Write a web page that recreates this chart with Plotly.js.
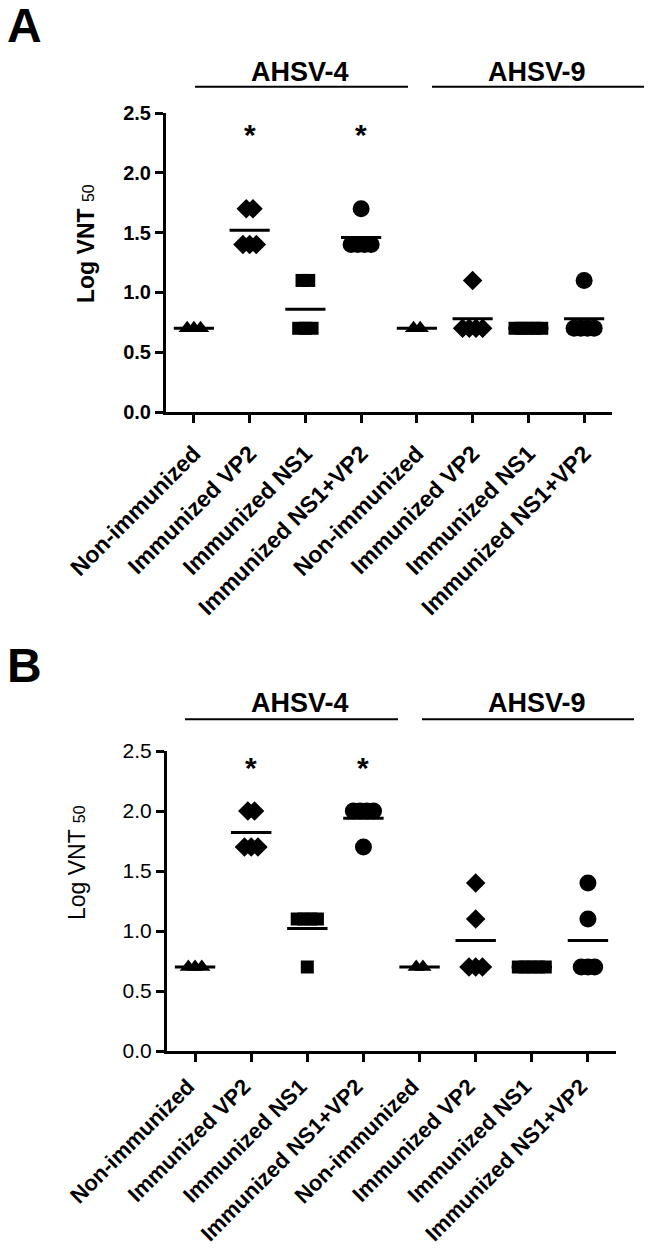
<!DOCTYPE html>
<html>
<head>
<meta charset="utf-8">
<script src="https://cdn.plot.ly/plotly-3.0.1.min.js"></script>
<style>
  body { margin: 0; background: #fff; }
  #plot { width: 650px; height: 1256px; }
</style>
</head>
<body>
<div id="plot"></div>
<script>
// categories along the x axis (same four groups for each serotype)
const groupLabels = ['Non-immunized', 'Immunized VP2', 'Immunized NS1', 'Immunized NS1+VP2',
                     'Non-immunized', 'Immunized VP2', 'Immunized NS1', 'Immunized NS1+VP2'];
const serotypes = ['AHSV-4', 'AHSV-9'];
const groupSymbols = ['triangle-up', 'diamond', 'square', 'circle',
                      'triangle-up', 'diamond', 'square', 'circle'];
const yTicks = [0, 0.5, 1.0, 1.5, 2.0, 2.5];

// Log VNT50 per animal, panel A
const panelA = [
    [0.7, 0.7, 0.7],
    [1.7, 1.7, 1.4, 1.4, 1.4],
    [1.1, 1.1, 0.7, 0.7, 0.7],
    [1.7, 1.4, 1.4, 1.4, 1.4],
    [0.7, 0.7],
    [1.1, 0.7, 0.7, 0.7, 0.7],
    [0.7, 0.7, 0.7, 0.7, 0.7],
    [1.1, 0.7, 0.7, 0.7, 0.7]
];
// panel B
const panelB = [
    [0.7, 0.7, 0.7],
    [2.0, 2.0, 1.7, 1.7, 1.7],
    [1.1, 1.1, 1.1, 1.1, 0.7],
    [2.0, 2.0, 2.0, 2.0, 1.7],
    [0.7, 0.7],
    [1.4, 1.1, 0.7, 0.7, 0.7],
    [0.7, 0.7, 0.7, 0.7, 0.7],
    [1.4, 1.1, 0.7, 0.7, 0.7]
];

// significant groups (asterisk) and where the asterisk sits
const sigA = [1, 3];
const sigB = [1, 3];
const starYA = 2.32;
const starYB = 2.36;

const symbolSize = { 'triangle-up': 15, 'diamond': 15, 'square': 13, 'circle': 17 };
const FONT = 'Liberation Sans, Arial, sans-serif';

// spread equal values sideways like a column scatter
function spread(values, center) {
    const xs = [];
    const counts = {};
    const seen = {};
    values.forEach(v => { counts[v] = (counts[v] || 0) + 1; });
    values.forEach(v => {
        const k = counts[v];
        const i = seen[v] || 0;
        seen[v] = i + 1;
        xs.push(center + (i - (k - 1) / 2) * 0.12);
    });
    return xs;
}

function mean(a) {
    return a.reduce((s, v) => s + v, 0) / a.length;
}

const traces = [];
function addPanel(data, xa, ya) {
    data.forEach((vals, g) => {
        const sym = groupSymbols[g];
        traces.push({
            x: spread(vals, g), y: vals, xaxis: xa, yaxis: ya,
            type: 'scatter', mode: 'markers', hoverinfo: 'skip',
            marker: { symbol: sym, size: symbolSize[sym], color: '#000', line: { width: 0 } }
        });
    });
    data.forEach((vals, g) => {
        const m = mean(vals);
        traces.push({
            x: [g - 0.36, g + 0.36], y: [m, m], xaxis: xa, yaxis: ya,
            type: 'scatter', mode: 'lines', hoverinfo: 'skip',
            line: { color: '#000', width: 3 }
        });
    });
}
addPanel(panelA, 'x', 'y');
addPanel(panelB, 'x2', 'y2');

function xAxis(domain, anchor, size, standoff, shift) {
    return {
        domain: domain, anchor: anchor, range: [-0.5, 7.5],
        tickmode: 'array', tickvals: groupLabels.map((_, i) => i), ticktext: groupLabels,
        tickangle: -45, ticks: 'outside', ticklen: 8, tickwidth: 3, tickcolor: '#000',
        ticklabelstandoff: standoff, ticklabelshift: shift,
        showline: true, linewidth: 3, linecolor: '#000', showgrid: false, zeroline: false,
        tickfont: { family: FONT, size: size, color: '#000', weight: 'bold' }
    };
}
function yAxis(domain, anchor, bold, size) {
    return {
        domain: domain, anchor: anchor, range: [0, 2.5],
        tickmode: 'array', tickvals: yTicks, ticktext: yTicks.map(v => v.toFixed(1)),
        ticks: 'outside', ticklen: 8, tickwidth: 3, tickcolor: '#000',
        showline: true, linewidth: 3, linecolor: '#000', showgrid: false, zeroline: false,
        tickfont: { family: FONT, size: size, color: '#000', weight: bold ? 'bold' : 'normal' }
    };
}

const H = 1256, W = 650;
const px = v => v / W;
const py = v => (H - v) / H;

const annotations = [];
const shapes = [];
function note(text, x, y, size, extra) {
    annotations.push(Object.assign({
        text: text, x: px(x), y: py(y), xref: 'paper', yref: 'paper',
        xanchor: 'center', yanchor: 'middle', showarrow: false,
        font: { family: FONT, size: size, color: '#000' }
    }, extra || {}));
}

// panel letters
note('<b>A</b>', 24, 25, 48);
note('<b>B</b>', 24, 666, 48);

// y titles
note('<b>Log VNT</b> <span style="font-size:16px">50</span>', 86, 244, 23, { textangle: -90 });
note('Log VNT <span style="font-size:16px">50</span>', 77, 863, 23, { textangle: -90 });

// serotype headers with lines
const headerA = { lineY: 86.7, textY: 72, spans: [[195, 408], [432, 644]], textX: [300, 537] };
const headerB = { lineY: 719.3, textY: 703, spans: [[185, 398], [422, 634]], textX: [300, 537] };
[headerA, headerB].forEach(h => {
    serotypes.forEach((s, i) => {
        shapes.push({ type: 'line', xref: 'paper', yref: 'paper',
            x0: px(h.spans[i][0]), x1: px(h.spans[i][1]), y0: py(h.lineY), y1: py(h.lineY),
            line: { color: '#000', width: 2 } });
        note('<b>' + s + '</b>', h.textX[i], h.textY, 27);
    });
});

// asterisks
sigA.forEach(g => annotations.push({ text: '<b>*</b>', x: g, y: starYA, xref: 'x', yref: 'y',
    xanchor: 'center', yanchor: 'middle', showarrow: false,
    font: { family: FONT, size: 30, color: '#000' } }));
sigB.forEach(g => annotations.push({ text: '<b>*</b>', x: g, y: starYB, xref: 'x2', yref: 'y2',
    xanchor: 'center', yanchor: 'middle', showarrow: false,
    font: { family: FONT, size: 30, color: '#000' } }));

const layout = {
    width: W, height: H,
    margin: { l: 0, r: 0, t: 0, b: 0 },
    paper_bgcolor: '#fff', plot_bgcolor: '#fff',
    showlegend: false,
    font: { family: FONT, color: '#000' },
    xaxis: xAxis([px(166), px(612)], 'y', 23, 8, 0),
    yaxis: yAxis([py(412), py(113)], 'x', true, 20),
    xaxis2: xAxis([px(167), px(616)], 'y2', 22, 3, -7),
    yaxis2: yAxis([py(1051), py(751)], 'x2', false, 21),
    annotations: annotations,
    shapes: shapes
};

Plotly.newPlot('plot', traces, layout, { staticPlot: true });
</script>
</body>
</html>
